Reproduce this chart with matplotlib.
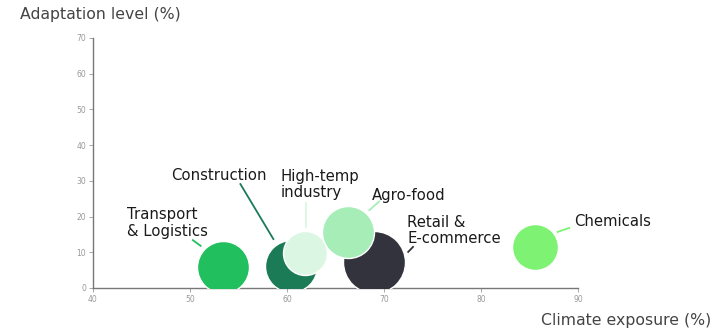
import numpy as np
import matplotlib.pyplot as plt

plt.rcParams['font.family'] = ['DejaVu Sans']

sectors = ["Transport\n& Logistics", "Construction", "High-temp\nindustry",
           "Retail &\nE-commerce", "Agro-food", "Chemicals"]
exposure = [53.4, 60.4, 61.9, 69.0, 66.3, 85.6]
adaptation = [6.0, 6.2, 9.7, 7.2, 15.8, 11.6]
weight = [26, 26, 22, 31, 26, 23]
colors = ["#22bf5e", "#1b7b57", "#dbf7e3", "#33333d", "#a6edb8", "#7ef373"]

# label position and leader line (start, end) in data coords
label_pos = [(43.5, 18.2), (48.1, 31.4), (59.3, 29.0), (72.4, 16.1), (68.8, 26.0), (89.6, 18.5)]
leaders = [((51.1, 11.8), (50.3, 13.4)),
           ((58.6, 13.7), (55.2, 29.1)),
           ((62.0, 17.1), (62.0, 23.8)),
           ((72.5, 10.1), (73.0, 11.5)),
           ((68.5, 21.8), (69.5, 24.2)),
           ((87.9, 15.7), (89.1, 16.8))]

fig = plt.figure(figsize=(7.27, 3.30), dpi=100)
ax = fig.add_axes([0.1279, 0.1273, 0.667, 0.7576])

for i in range(len(sectors)):
    ax.scatter(exposure[i], adaptation[i], s=(1.44 * weight[i]) ** 2,
               color=colors[i], edgecolor="white", linewidth=1, zorder=3 + i)
    (x0, y0), (x1, y1) = leaders[i]
    ax.plot([x0, x1], [y0, y1], color=colors[i], lw=1.3, zorder=2, clip_on=False)
    ax.text(label_pos[i][0], label_pos[i][1], sectors[i], ha="left", va="center",
            fontsize=10.7, color="#1a1a1a", linespacing=1.13, zorder=10)

ax.set_xlim(40, 90)
ax.set_ylim(0, 70)
ax.set_xticks(np.arange(40, 91, 10))
ax.set_yticks(np.arange(0, 71, 10))
for s in ["top", "right"]:
    ax.spines[s].set_visible(False)
for s in ["left", "bottom"]:
    ax.spines[s].set_color("#777777")
    ax.spines[s].set_linewidth(1)
ax.tick_params(labelsize=5.5, colors="#999999", length=3, width=0.6, pad=2)

fig.text(20 / 727, 1 - 15 / 330, "Adaptation level (%)", fontsize=11.3,
         color="#444444", ha="left", va="center")
fig.text(711 / 727, 1 - 320 / 330, "Climate exposure (%)", fontsize=11.3,
         color="#444444", ha="right", va="center")

fig.savefig("out.png", dpi=100)
